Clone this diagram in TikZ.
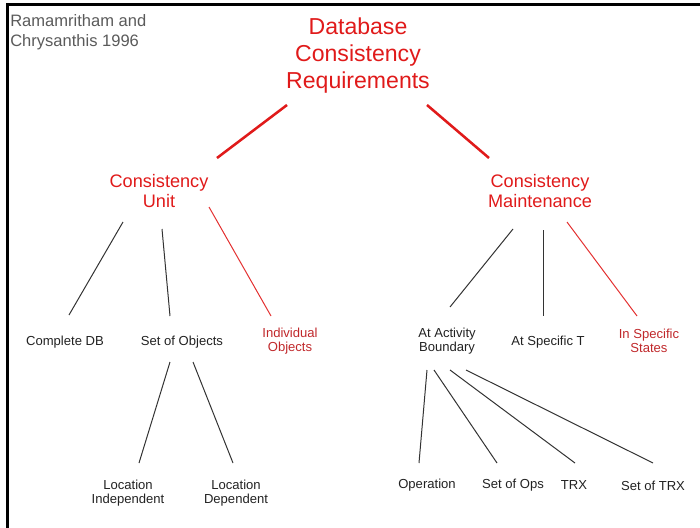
\documentclass[tikz,border=0pt]{standalone}
\usepackage{fontspec}
\setmainfont{Liberation Sans}
\usetikzlibrary{calc}

\definecolor{headred}{HTML}{E01A1A}
\definecolor{leafred}{HTML}{C0282B}
\definecolor{linegray}{HTML}{333333}
\definecolor{textgray}{HTML}{222222}
\definecolor{creditgray}{HTML}{5A5A5A}

\tikzset{
  title/.style={text=headred, align=center, inner sep=0pt,
    font=\fontsize{17.3pt}{20.25pt}\selectfont},
  branch/.style={text=headred, align=center, inner sep=0pt,
    font=\fontsize{13.6pt}{15pt}\selectfont},
  leaf/.style={text=textgray, align=center, inner sep=0pt,
    font=\fontsize{9.8pt}{10.5pt}\selectfont},
  redleaf/.style={leaf, text=leafred},
  credit/.style={text=creditgray, align=left, inner sep=0pt, anchor=west,
    font=\fontsize{12.4pt}{15pt}\selectfont},
  mainlink/.style={draw=headred, line width=1.9pt},
  link/.style={draw=linegray, line width=0.75pt},
  redlink/.style={draw=headred!90!white, line width=0.75pt},
}

\begin{document}
\begin{tikzpicture}[x=0.75pt, y=-0.75pt]
  \useasboundingbox (0,0) rectangle (700,528);

  % frame on the left and top edges
  \draw[line width=1.6pt, line cap=rect] (7.5,527) -- (7.5,4.5) -- (700,4.5);

  % text nodes
  \node[credit] (cred) at (10,32.5) {Ramamritham and\\Chrysanthis 1996};
  \node[title] (top) at (358,56) {Database\\Consistency\\Requirements};

  \node[branch] (cu) at (159,191) {Consistency\\Unit};
  \node[branch] (cm) at (540,191) {Consistency\\Maintenance};

  \node[leaf] (cdb) at (65,342) {Complete DB};
  \node[leaf] (soo) at (182,342) {Set of Objects};
  \node[redleaf] (ind) at (290,341) {Individual\\Objects};

  \node[leaf] (aab) at (447,341) {At Activity\\Boundary};
  \node[leaf] (ast) at (548,342) {At Specific T};
  \node[redleaf] (iss) at (649,341) {In Specific\\States};

  \node[leaf] (li) at (128,493) {Location\\Independent};
  \node[leaf] (ld) at (236,493) {Location\\Dependent};

  \node[leaf] (op) at (427,485.5) {Operation};
  \node[leaf] (sops) at (513,485.5) {Set of Ops};
  \node[leaf] (trx) at (574,485.5) {TRX};
  \node[leaf] (stx) at (653,485.5) {Set of TRX};

  % root to the two branches
  \draw[mainlink] ($(top)+(-71,49)$) -- ($(cu)+(58,-33)$);
  \draw[mainlink] ($(top)+(69,49)$) -- ($(cm)+(-51,-33)$);

  % consistency unit
  \draw[link] ($(cu)+(-36,31)$) -- ($(cdb)+(4,-27)$);
  \draw[link] ($(cu)+(3,38)$) -- ($(soo)+(-12,-26)$);
  \draw[redlink] ($(cu)+(50,16)$) -- ($(ind)+(-19,-25)$);

  % consistency maintenance
  \draw[link] ($(cm)+(-27,38)$) -- ($(aab)+(3,-34)$);
  \draw[link] ($(cm)+(3.5,39)$) -- ($(ast)+(-4.5,-26)$);
  \draw[redlink] ($(cm)+(27,31)$) -- ($(iss)+(-12,-25)$);

  % set of objects
  \draw[link] ($(soo)+(-12,20)$) -- ($(li)+(11,-30)$);
  \draw[link] ($(soo)+(11,20)$) -- ($(ld)+(-3,-30)$);

  % at activity boundary
  \draw[link] ($(aab)+(-20,29)$) -- ($(op)+(-8,-22.5)$);
  \draw[link] ($(aab)+(-13,29)$) -- ($(sops)+(-16,-22.5)$);
  \draw[link] ($(aab)+(3,29)$) -- ($(trx)+(1,-22.5)$);
  \draw[link] ($(aab)+(19,29)$) -- ($(stx)+(0,-22.5)$);
\end{tikzpicture}
\end{document}
